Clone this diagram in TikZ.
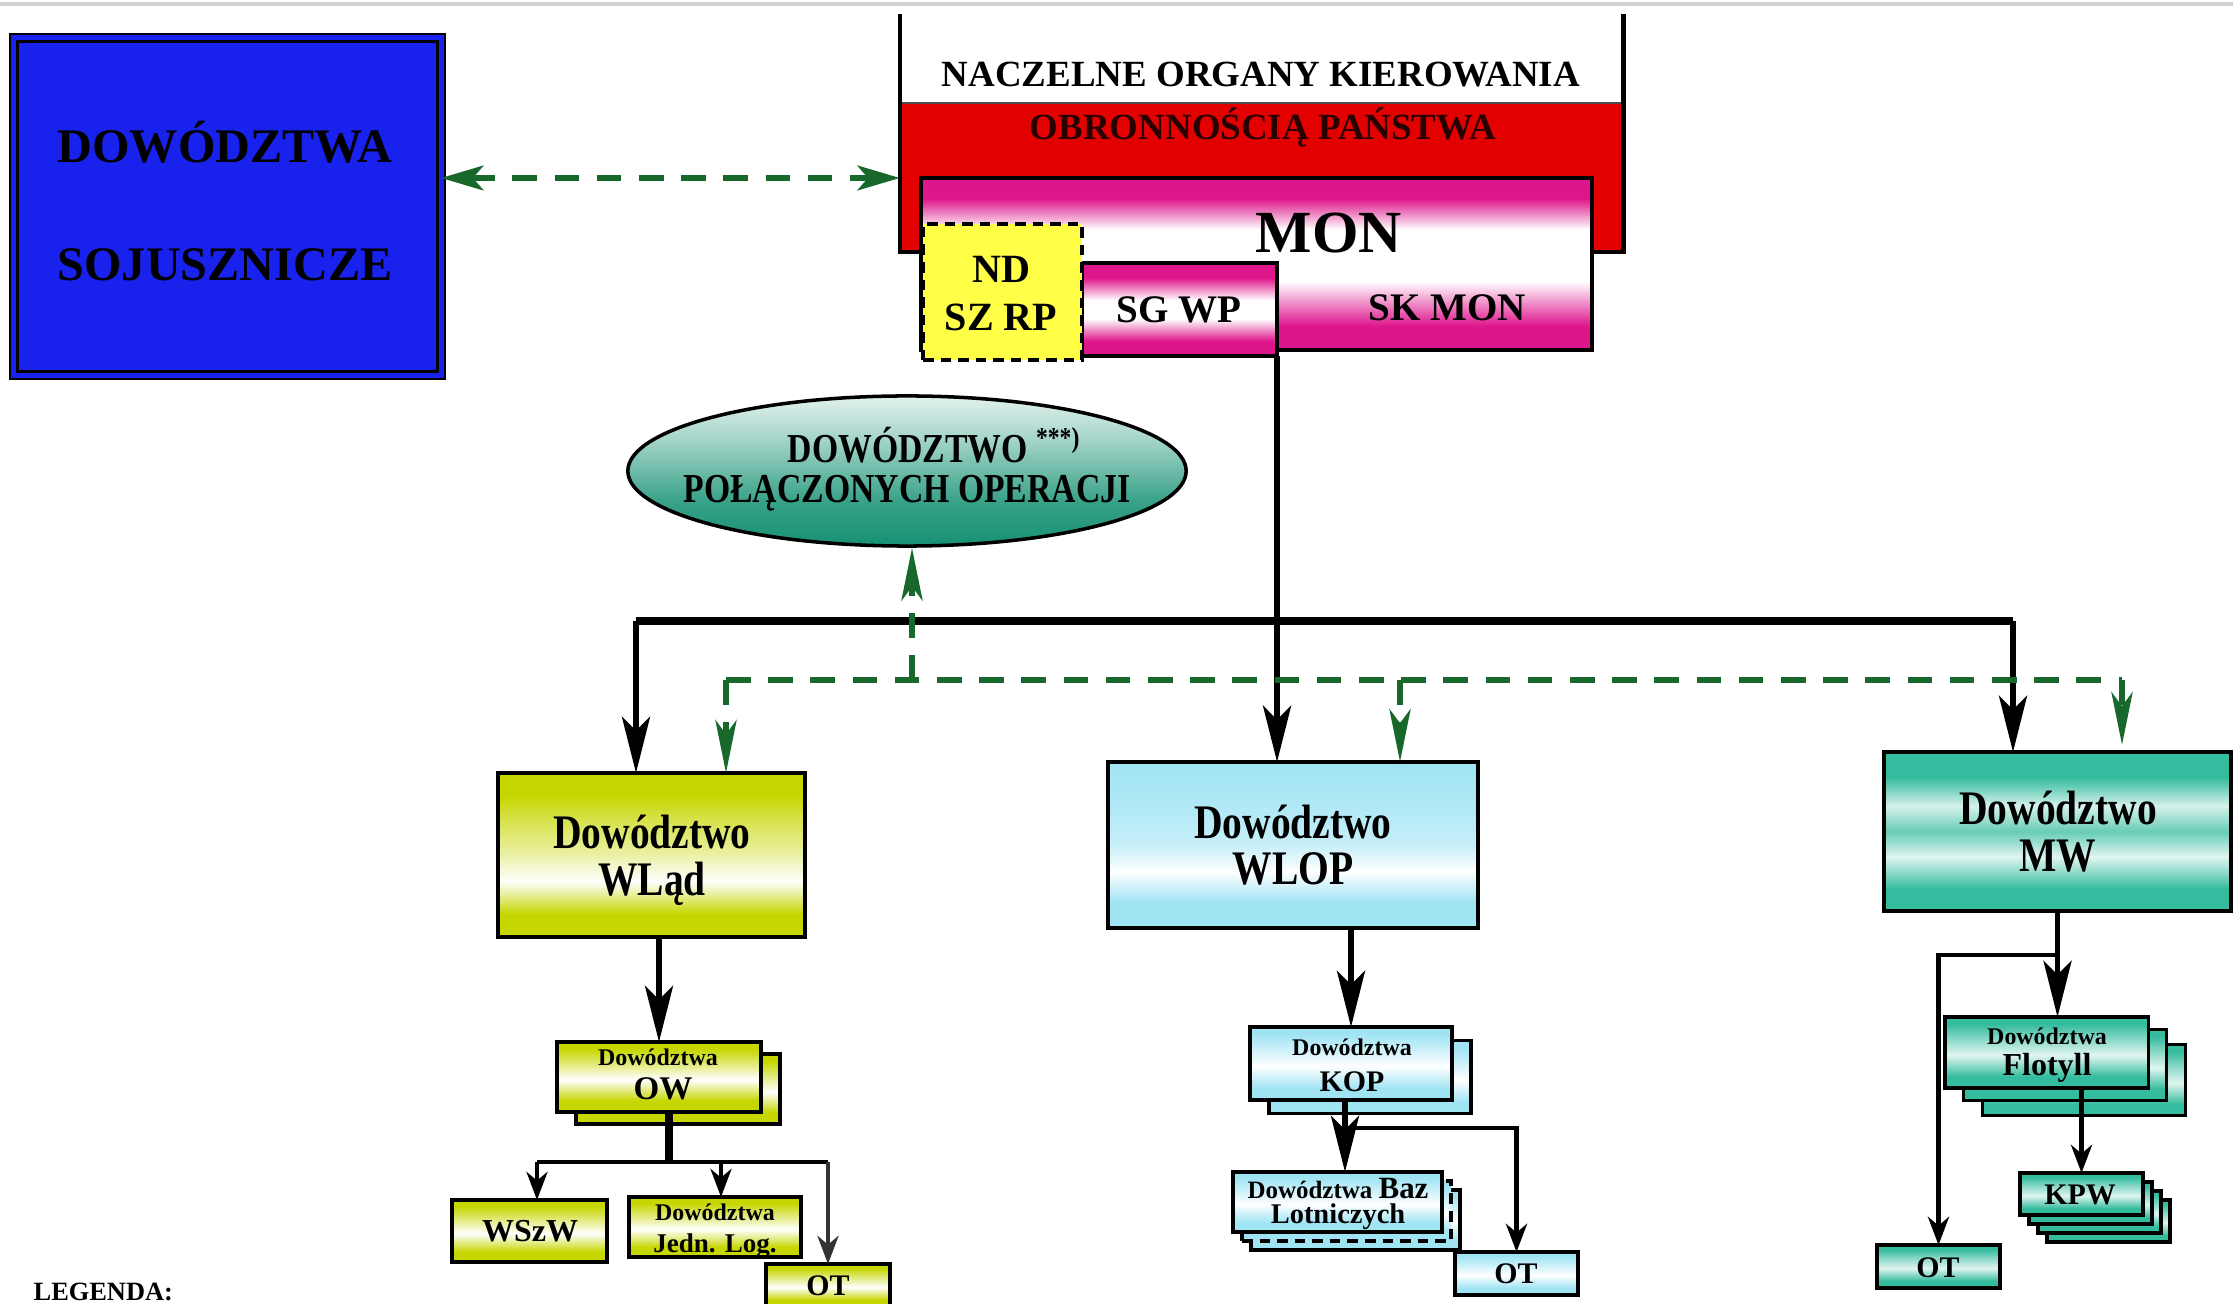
\documentclass[tikz,border=0pt]{standalone}
\usepackage{fontspec}
\setmainfont{Liberation Serif}
\newfontfamily\narrowserif[FakeStretch=0.82]{Liberation Serif}
\usetikzlibrary{arrows.meta,shapes.geometric,calc}

\definecolor{sojblue}{RGB}{24,34,236}
\definecolor{nokred}{RGB}{226,0,0}
\definecolor{monpink}{RGB}{222,22,140}
\definecolor{ndyellow}{RGB}{255,255,72}
\definecolor{dpoteal}{RGB}{22,145,115}
\definecolor{linkgreen}{RGB}{24,104,44}
\definecolor{wladgreen}{RGB}{198,214,0}
\definecolor{wlopcyan}{RGB}{160,228,244}
\definecolor{mwteal}{RGB}{52,188,158}

% vertical shadings: 25bp = bottom edge, 75bp = top edge of the shaded path
\pgfdeclareverticalshading{monshade}{100bp}{color(0bp)=(monpink); color(25bp)=(monpink); color(32bp)=(monpink); color(45bp)=(white); color(60bp)=(white); color(69bp)=(monpink); color(75bp)=(monpink); color(100bp)=(monpink)}
\pgfdeclareverticalshading{sgshade}{100bp}{color(0bp)=(monpink); color(25bp)=(monpink); color(33bp)=(monpink); color(45bp)=(white); color(55bp)=(white); color(67bp)=(monpink); color(75bp)=(monpink); color(100bp)=(monpink)}
\pgfdeclareverticalshading{dposhade}{100bp}{color(0bp)=(dpoteal); color(25bp)=(dpoteal); color(40bp)=(dpoteal!85); color(60bp)=(dpoteal!40); color(75bp)=(dpoteal!12); color(100bp)=(dpoteal!12)}
\pgfdeclareverticalshading{wladshade}{100bp}{color(0bp)=(wladgreen); color(25bp)=(wladgreen); color(32bp)=(wladgreen); color(42bp)=(white); color(50bp)=(wladgreen!35); color(62bp)=(wladgreen!75); color(68bp)=(wladgreen); color(75bp)=(wladgreen); color(100bp)=(wladgreen)}
\pgfdeclareverticalshading{wlopshade}{100bp}{color(0bp)=(wlopcyan); color(25bp)=(wlopcyan); color(33bp)=(wlopcyan); color(42bp)=(white); color(50bp)=(wlopcyan!60); color(60bp)=(wlopcyan!80); color(75bp)=(wlopcyan); color(100bp)=(wlopcyan)}
\pgfdeclareverticalshading{mwshade}{100bp}{color(0bp)=(mwteal); color(25bp)=(mwteal); color(32bp)=(mwteal); color(42bp)=(mwteal!15); color(50bp)=(mwteal!75); color(58bp)=(mwteal!20); color(67bp)=(mwteal); color(75bp)=(mwteal); color(100bp)=(mwteal)}
\pgfdeclareverticalshading{sgreen}{100bp}{color(0bp)=(wladgreen); color(25bp)=(wladgreen); color(33bp)=(wladgreen); color(48bp)=(white); color(60bp)=(wladgreen!55); color(70bp)=(wladgreen); color(75bp)=(wladgreen); color(100bp)=(wladgreen)}
\pgfdeclareverticalshading{scyan}{100bp}{color(0bp)=(wlopcyan); color(25bp)=(wlopcyan); color(33bp)=(wlopcyan); color(48bp)=(white); color(60bp)=(wlopcyan!55); color(70bp)=(wlopcyan); color(75bp)=(wlopcyan); color(100bp)=(wlopcyan)}
\pgfdeclareverticalshading{steal}{100bp}{color(0bp)=(mwteal); color(25bp)=(mwteal); color(33bp)=(mwteal); color(48bp)=(mwteal!15); color(60bp)=(mwteal!60); color(70bp)=(mwteal); color(75bp)=(mwteal); color(100bp)=(mwteal)}

\begin{document}
\begin{tikzpicture}[x=0.01cm, y=-0.01cm,
  tx/.style={inner sep=0pt, anchor=base, font=\bfseries},
  fsz/.style={font=\fontsize{#1}{#1}\selectfont\bfseries},
  nfsz/.style={font=\fontsize{#1}{#1}\narrowserif\bfseries},
  box/.style={draw, line width=1pt, inner sep=0pt, outer sep=0pt},
  sbox/.style={draw, line width=0.9pt, inner sep=0pt, outer sep=0pt},
  bigarrow/.style={line width=1.5pt, -{Stealth[length=16pt,width=8pt,inset=4pt]}},
  smallarrow/.style={line width=1.1pt, -{Stealth[length=8pt,width=6pt,inset=2.5pt]}},
  trunkline/.style={line width=1.6pt},
  busline/.style={line width=2pt},
  sbusline/.style={line width=1.4pt},
  greenlink/.style={linkgreen, line width=1.8pt, dash pattern=on 7pt off 5pt},
  greenarrow/.style={greenlink, -{Stealth[length=15pt,width=6pt,inset=4pt]}},
  greendouble/.style={greenlink, {Stealth[length=12pt,width=7pt,inset=3pt]}-{Stealth[length=12pt,width=7pt,inset=3pt]}}
]
\useasboundingbox (0,0) rectangle (2233,1304);
\fill[white] (0,0) rectangle (2233,1304);
\draw[black!18, line width=1.2pt] (0,4) -- (2233,4);

% allied commands
\node[box, line width=0.8pt, double=sojblue, double distance=1.4pt, fill=sojblue,
      minimum width=4.27cm, minimum height=3.37cm] (soj) at (227.5,206.5) {};
\node[tx, fsz=13.7] (sojA) at (225,163) {DOWÓDZTWA};
\node[tx, fsz=13.7] (sojB) at (225,281) {SOJUSZNICZE};

% supreme defence authorities
\node[inner sep=0pt, outer sep=0pt, fill=white, minimum width=7.23cm, minimum height=2.38cm] (nok) at (1261.5,133) {};
\node[inner sep=0pt, outer sep=0pt, fill=nokred, minimum width=7.23cm, minimum height=1.49cm, anchor=south] (obr) at (nok.south) {};
\draw[black!70, line width=0.5pt] (obr.north west) -- (obr.north east);
\draw[line width=1.3pt] (nok.north west) -- (nok.south west) -- (nok.south east) -- (nok.north east);
\node[tx, fsz=10.5] (nokA) at (1261,87) {NACZELNE ORGANY KIEROWANIA};
\node[tx, fsz=10.5, text={rgb,255:red,40;green,0;blue,0}] (nokB) at (1263,140) {OBRONNOŚCIĄ PAŃSTWA};

% ministry
\node[box, shading=monshade, minimum width=6.71cm, minimum height=1.72cm] (mon) at (1256.5,264) {};
\node[tx, fsz=17] (monT) at (1329,253) {MON};
\node[tx, fsz=11.1] (skmon) at (1447,321) {SK MON};
\node[box, shading=sgshade, minimum width=1.95cm, minimum height=0.93cm] (sgwp) at (1179.5,309.5) {};
\node[tx, fsz=11.1] (sgwpT) at (1179,323) {SG WP};
\node[box, fill=ndyellow, dash pattern=on 3pt off 2pt, minimum width=1.59cm, minimum height=1.36cm] (nd) at (1002.5,292) {};
\node[tx, fsz=11.4] (ndA) at (1001,283) {ND};
\node[tx, fsz=11.4] (ndB) at (1001,331) {SZ RP};

% joint operations command
\node[ellipse, draw, line width=1pt, shading=dposhade, inner sep=0pt,
      minimum width=5.58cm, minimum height=1.50cm] (dpo) at (907,471) {};
\node[tx, nfsz=11.7, anchor=base west] (dpoA) at (787,463) {DOWÓDZTWO \textsuperscript{***)}};
\node[tx, nfsz=11.7] (dpoB) at (907,503) {POŁĄCZONYCH OPERACJI};

% branch commands
\node[box, shading=wladshade, minimum width=3.07cm, minimum height=1.64cm] (wlad) at (651.5,855) {};
\node[tx, nfsz=13.7] (wladA) at (652,849) {Dowództwo};
\node[tx, nfsz=13.7] (wladB) at (652,896) {WLąd};
\node[box, shading=wlopshade, minimum width=3.70cm, minimum height=1.66cm] (wlop) at (1293,845) {};
\node[tx, nfsz=13.7] (wlopA) at (1293,839) {Dowództwo};
\node[tx, nfsz=13.7] (wlopB) at (1293,885) {WLOP};
\node[box, shading=mwshade, minimum width=3.47cm, minimum height=1.59cm] (mw) at (2057.5,831.5) {};
\node[tx, nfsz=13.7] (mwA) at (2058,825) {Dowództwo};
\node[tx, nfsz=13.7] (mwB) at (2058,872) {MW};

% land forces subordinates
\node[sbox, shading=sgreen, minimum width=2.04cm, minimum height=0.70cm] (owback) at (678,1089) {};
\node[sbox, shading=sgreen, minimum width=2.04cm, minimum height=0.70cm] (ow) at (659,1077) {};
\node[tx, fsz=6.8] (owA) at (658,1066) {Dowództwa};
\node[tx, fsz=9.4] (owB) at (663,1100) {OW};
\node[sbox, shading=sgreen, minimum width=1.55cm, minimum height=0.62cm] (wszw) at (529.5,1231) {};
\node[tx, fsz=9.1] (wszwT) at (530,1241) {WSzW};
\node[sbox, shading=sgreen, minimum width=1.72cm, minimum height=0.60cm] (jedn) at (715,1227) {};
\node[tx, fsz=6.8] (jednA) at (715,1220) {Dowództwa};
\node[tx, fsz=7.7] (jednB) at (715,1252) {Jedn. Log.};
\node[sbox, shading=sgreen, minimum width=1.24cm, minimum height=0.43cm] (otl) at (828,1285.5) {};
\node[tx, fsz=8.5] (otlT) at (828,1295) {OT};

% air force subordinates
\node[sbox, shading=scyan, minimum width=2.02cm, minimum height=0.73cm] (kopback) at (1370,1077) {};
\node[sbox, shading=scyan, minimum width=2.02cm, minimum height=0.73cm] (kop) at (1351,1063.5) {};
\node[tx, fsz=6.8] (kopA) at (1352,1056) {Dowództwa};
\node[tx, fsz=8.5] (kopB) at (1352,1092) {KOP};
\node[sbox, shading=scyan, minimum width=2.09cm, minimum height=0.60cm] (bazback) at (1355.5,1220) {};
\node[sbox, shading=scyan, dash pattern=on 3pt off 2pt, minimum width=2.09cm, minimum height=0.60cm] (bazmid) at (1346.5,1211) {};
\node[sbox, shading=scyan, minimum width=2.09cm, minimum height=0.60cm] (baz) at (1337.5,1202) {};
\node[tx, fsz=7.1] (bazA) at (1338,1198) {Dowództwa {\fontsize{8.8}{8.8}\selectfont Baz}};
\node[tx, fsz=8.1] (bazB) at (1338,1223) {Lotniczych};
\node[sbox, shading=scyan, minimum width=1.23cm, minimum height=0.43cm] (ota) at (1516.5,1273.5) {};
\node[tx, fsz=8.5] (otaT) at (1516,1283) {OT};

% navy subordinates
\node[sbox, shading=steal, minimum width=2.03cm, minimum height=0.71cm] (flotb) at (2084,1080) {};
\node[sbox, shading=steal, minimum width=2.03cm, minimum height=0.71cm] (flota) at (2065,1065) {};
\node[sbox, shading=steal, minimum width=2.03cm, minimum height=0.71cm] (flot) at (2046.5,1052.5) {};
\node[tx, fsz=6.8] (flotA) at (2047,1045) {Dowództwa};
\node[tx, fsz=9.1] (flotB) at (2047,1076) {Flotyll};
\node[sbox, shading=steal, minimum width=1.23cm, minimum height=0.42cm] (kpwc) at (2108.5,1221) {};
\node[sbox, shading=steal, minimum width=1.23cm, minimum height=0.42cm] (kpwb) at (2099.5,1212) {};
\node[sbox, shading=steal, minimum width=1.23cm, minimum height=0.42cm] (kpwa) at (2090.5,1203) {};
\node[sbox, shading=steal, minimum width=1.23cm, minimum height=0.42cm] (kpw) at (2081.5,1194) {};
\node[tx, fsz=8.5] (kpwT) at (2080,1205) {KPW};
\node[sbox, shading=steal, minimum width=1.23cm, minimum height=0.43cm] (otm) at (1938.5,1266.5) {};
\node[tx, fsz=8.5] (otmT) at (1938,1277) {OT};

\node[tx, fsz=7.5, anchor=base west] (legenda) at (33,1300) {LEGENDA:};

% cooperation links
\coordinate (gy) at (0,178);
\draw[greendouble] (soj.east |- gy) -- (nok.west |- gy);

% command lines from the ministry
\draw[trunkline, -{Stealth[length=16pt,width=8pt,inset=4pt]}] (sgwp.south east) -- (sgwp.south east |- wlop.north);
\coordinate (busL) at (636,621);
\coordinate (busR) at (2013,621);
\draw[busline] (busL) -- (busR);
\draw[bigarrow] (busL) -- (busL |- wlad.north);
\draw[bigarrow] (busR) -- (busR |- mw.north);

% operational subordination (dashed)
\coordinate (gL) at (726,680);
\coordinate (gM) at (1400,680);
\coordinate (gR) at (2122,680);
\coordinate (gU) at (912,680);
\draw[greenlink] (gL) -- (gR);
\draw[greenarrow] (gL) -- (gL |- wlad.north);
\draw[greenarrow] (gM) -- (gM |- wlop.north);
\draw[greenarrow] (gR) -- ($(gR |- mw.north)+(0,-7)$);
\draw[greenarrow] (gU) -- (gU |- dpo.south);

% land forces
\draw[bigarrow] (ow.north |- wlad.south) -- (ow.north);
\coordinate (owb) at (669,1162);
\coordinate (owbL) at (537,1162);
\coordinate (owbM) at (721,1162);
\coordinate (owbR) at (828,1162);
\draw[busline] (owb |- ow.south) -- (owb);
\draw[sbusline] (owbL) -- (owbR);
\draw[smallarrow] (owbL) -- (owbL |- wszw.north);
\draw[smallarrow] (owbM) -- (owbM |- jedn.north);
\draw[smallarrow, black!80] (owbR) -- (owbR |- otl.north);

% air force
\draw[bigarrow] (kop.north |- wlop.south) -- (kop.north);
\coordinate (kb) at (1345,1128);
\draw[bigarrow] (kb |- kop.south) -- (kb |- baz.north);
\draw[smallarrow, line width=1.3pt] (kb) -| (ota.north);

% navy
\draw[bigarrow] (mw.south) -- (mw.south |- flot.north);
\coordinate (mb) at (2058,955);
\draw[smallarrow, line width=1.3pt] (mb) -| (otm.north);
\draw[smallarrow, line width=1.3pt] (kpw.north |- flot.south) -- (kpw.north);
\end{tikzpicture}
\end{document}
